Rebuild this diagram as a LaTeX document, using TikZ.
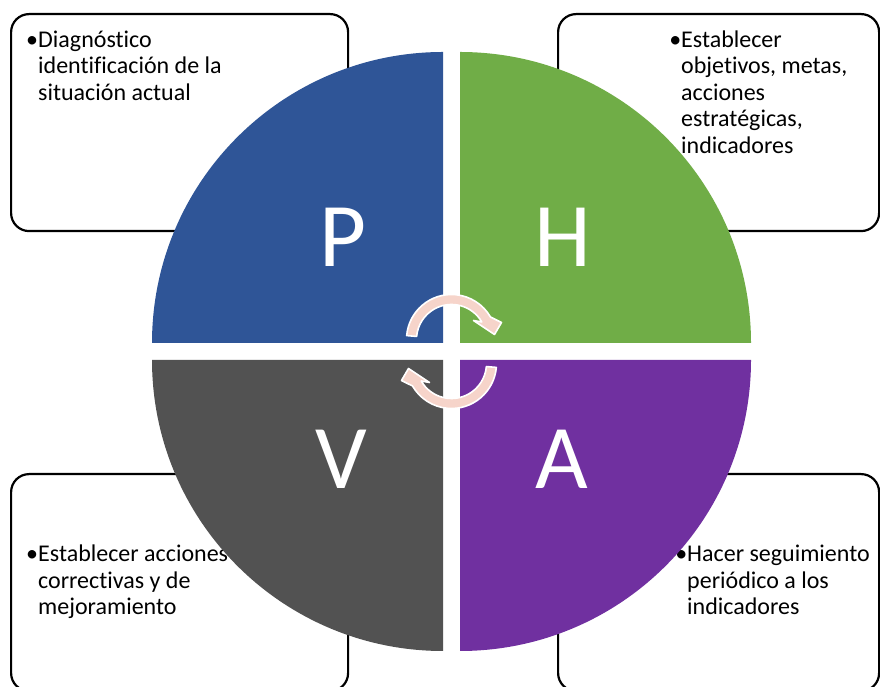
\documentclass[tikz,border=0pt]{standalone}
\usepackage{fontspec}
\setmainfont{Carlito}[Ligatures={NoCommon,NoRare}]
\usepackage{xcolor}
\usetikzlibrary{positioning,calc}

\definecolor{pblue}{HTML}{2F5597}
\definecolor{hgreen}{HTML}{70AD47}
\definecolor{vgray}{HTML}{525252}
\definecolor{apurple}{HTML}{7030A0}
\definecolor{cycpink}{HTML}{F6D4CA}

\begin{document}
\begin{tikzpicture}[
  x=1pt,y=1pt,
  box/.style={draw,line width=2.2pt,rounded corners=18pt,anchor=north west,
              minimum height=217pt,inner sep=0pt},
  txt/.style={anchor=base west,align=left,inner sep=0pt,
              font=\fontsize{24}{26.5}\selectfont},
  letter/.style={text=white,inner sep=0pt,font=\fontsize{91}{91}\selectfont},
  cyc/.style={fill=cycpink,draw=white,line width=1.6pt,line join=round}
]
\useasboundingbox (0,0) rectangle (880,687);

% boxes behind the circle
\node[box,minimum width=337pt] (bP) at (10,674) {};
\node[box,minimum width=321pt] (bH) at (557,674) {};
\node[box,minimum width=337pt] (bV) at (10,214) {};
\node[box,minimum width=321pt] (bA) at (557,214) {};

% texts, placed at the baseline of their last line
\node[txt] (tP) at (38,586.5) {\llap{•}Diagnóstico\\identificación de la\\situación actual};
\node[txt] (tH) at (681,533.5) {\llap{•}Establecer\\objetivos, metas,\\acciones\\estratégicas,\\indicadores};
\node[txt] (tV) at (38,72.3) {\llap{•}Establecer acciones\\correctivas y de\\mejoramiento};
\node[txt] (tA) at (687,72.3) {\llap{•}Hacer seguimiento\\periódico a los\\indicadores};

% four quarters
\fill[pblue] (443,344) -- ++(-291,0) arc[start angle=180,end angle=90,radius=291] -- cycle;
\fill[hgreen] (460,344) -- ++(0,291) arc[start angle=90,end angle=0,radius=291] -- cycle;
\fill[vgray] (443,327) -- ++(0,-291) arc[start angle=270,end angle=180,radius=291] -- cycle;
\fill[apurple] (460,327) -- ++(291,0) arc[start angle=0,end angle=-90,radius=291] -- cycle;

\node[letter] (lP) at (343.5,449.5) {P};
\node[letter] (lH) at (563.3,449.5) {H};
\node[letter] (lV) at (341,228) {V};
\node[letter] (lA) at (562,228) {A};

% cycle arrows
\foreach \r in {0,180}{
  \begin{scope}[shift={(451.5,335.5)},rotate=\r]
    \begin{scope}[shift={(0,12)}]
      \filldraw[cyc] (175:45) arc[start angle=175,end angle=30,radius=45]
        -- (50,17) -- (43,5) -- (22,19) -- (30:35)
        arc[start angle=30,end angle=175,radius=35] -- cycle;
    \end{scope}
  \end{scope}
}
\end{tikzpicture}
\end{document}
